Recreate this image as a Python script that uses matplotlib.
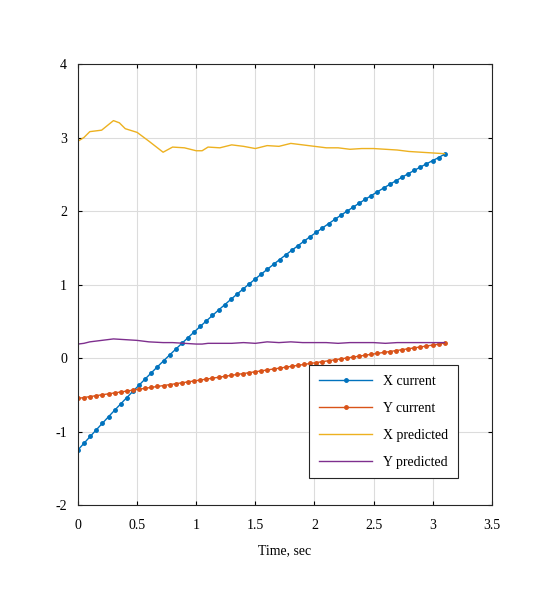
import matplotlib
matplotlib.use("Agg")
import matplotlib.pyplot as plt
import numpy as np

plt.rcParams['font.family'] = ['Liberation Serif', 'DejaVu Serif']
plt.rcParams['axes.unicode_minus'] = False

t_cur = np.arange(61) * 0.0517
x_current = [-1.25, -1.158, -1.067, -0.976, -0.887, -0.798, -0.710, -0.623, -0.537, -0.452,
             -0.368, -0.284, -0.201, -0.119, -0.038, 0.042, 0.121, 0.200, 0.277, 0.354,
             0.43, 0.505, 0.579, 0.653, 0.725, 0.797, 0.868, 0.938, 1.007, 1.075,
             1.143, 1.209, 1.275, 1.340, 1.404, 1.467, 1.529, 1.591, 1.652, 1.711,
             1.77, 1.828, 1.885, 1.942, 1.997, 2.052, 2.106, 2.159, 2.211, 2.262,
             2.313, 2.362, 2.411, 2.459, 2.506, 2.552, 2.597, 2.641, 2.685, 2.727, 2.775]
y_current = [-0.55, -0.537, -0.524, -0.512, -0.499, -0.487, -0.474, -0.462, -0.449, -0.437,
             -0.424, -0.412, -0.399, -0.387, -0.374, -0.362, -0.349, -0.337, -0.324, -0.312,
             -0.299, -0.287, -0.274, -0.262, -0.249, -0.237, -0.224, -0.212, -0.199, -0.187,
             -0.174, -0.162, -0.149, -0.137, -0.124, -0.112, -0.099, -0.087, -0.074, -0.062,
             -0.049, -0.037, -0.024, -0.012, 0.001, 0.013, 0.026, 0.038, 0.051, 0.063,
             0.076, 0.088, 0.101, 0.113, 0.126, 0.138, 0.151, 0.163, 0.176, 0.188, 0.205]
t_pred = [0, 0.05, 0.1, 0.2, 0.3, 0.35, 0.4, 0.5, 0.6, 0.72, 0.8, 0.9, 1.0, 1.05, 1.1, 1.2,
          1.3, 1.4, 1.5, 1.6, 1.7, 1.8, 1.9, 2.0, 2.1, 2.2, 2.3, 2.4, 2.5, 2.6, 2.7, 2.8, 3.1]
x_pred = [2.95, 3.0, 3.08, 3.1, 3.23, 3.2, 3.12, 3.07, 2.95, 2.8, 2.87, 2.86, 2.82, 2.82, 2.87, 2.86,
          2.9, 2.88, 2.85, 2.89, 2.88, 2.92, 2.9, 2.88, 2.86, 2.86, 2.84, 2.85, 2.85, 2.84, 2.83, 2.81, 2.78]
y_pred = [0.19, 0.2, 0.22, 0.24, 0.26, 0.255, 0.25, 0.24, 0.22, 0.21, 0.21, 0.2, 0.19, 0.19, 0.2, 0.2,
          0.2, 0.21, 0.2, 0.22, 0.21, 0.22, 0.21, 0.21, 0.21, 0.2, 0.21, 0.21, 0.21, 0.2, 0.21, 0.21, 0.21]

fig = plt.figure(figsize=(5.36, 5.9), dpi=100)
ax = fig.add_axes([0.1455, 0.144, 0.772, 0.7475])
ax.plot(t_cur, x_current, '-o', color='#0072BD', ms=2.5, lw=1, label='X current')
ax.plot(t_cur, y_current, '-o', color='#D95319', ms=2.5, lw=1, label='Y current')
ax.plot(t_pred, x_pred, '-', color='#EDB120', lw=1, label='X predicted')
ax.plot(t_pred, y_pred, '-', color='#7E2F8E', lw=1, label='Y predicted')
ax.set_xlim(0, 3.5)
ax.set_ylim(-2, 4)
ax.set_xticks(np.arange(0, 3.51, 0.5))
ax.set_xticklabels(['0', '0.5', '1', '1.5', '2', '2.5', '3', '3.5'])
ax.set_yticks(range(-2, 5))
ax.grid(True, color='#dcdcdc', lw=0.8)
ax.set_axisbelow(True)
ax.tick_params(direction='in', labelsize=10, top=True, right=True, length=3)
ax.tick_params(axis='x', pad=10)
ax.tick_params(axis='y', pad=8)
for s in ax.spines.values():
    s.set_color('#262626'); s.set_linewidth(0.8)
ax.set_xlabel('Time, sec', fontsize=10, labelpad=9)
leg = ax.legend(loc='lower right', fontsize=10, fancybox=False, edgecolor='#262626',
                framealpha=1, borderpad=0.7, handlelength=3.8, labelspacing=1.0,
                bbox_to_anchor=(0.935, 0.045))
leg.get_frame().set_linewidth(0.8)
fig.savefig('out.png', dpi=100)
